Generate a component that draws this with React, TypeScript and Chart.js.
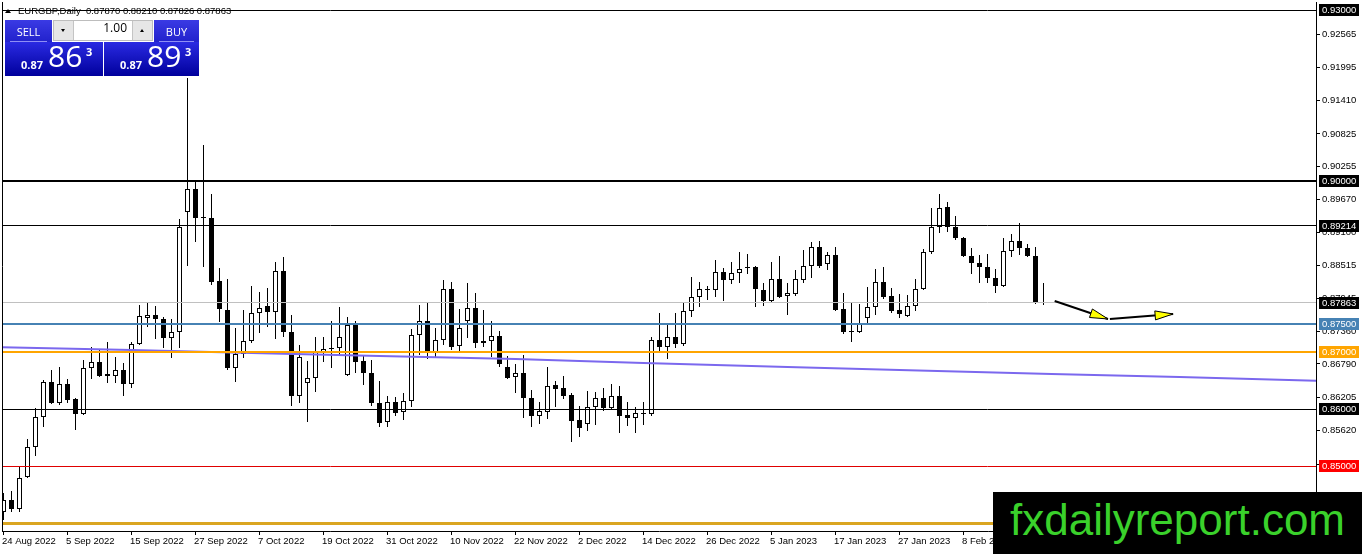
import React, { useEffect, useRef } from "react";
import { Chart, registerables } from "chart.js";

Chart.register(...registerables);

// ---- Data (EURGBP Daily) ----
const dateLabels = [
  "24 Aug 2022", "5 Sep 2022", "15 Sep 2022", "27 Sep 2022", "7 Oct 2022", "19 Oct 2022",
  "31 Oct 2022", "10 Nov 2022", "22 Nov 2022", "2 Dec 2022", "14 Dec 2022", "26 Dec 2022",
  "5 Jan 2023", "17 Jan 2023", "27 Jan 2023", "8 Feb 2023", "20 Feb 2023",
];
const dateLabelIdx = [0, 8, 16, 24, 32, 40, 48, 56, 64, 72, 80, 88, 96, 104, 112, 120, 128];

const opens = [
  0.84193, 0.84404, 0.84246, 0.84807, 0.85333, 0.8586, 0.86474, 0.86105, 0.86439, 0.86175,
  0.85912, 0.86719, 0.86825, 0.86614, 0.86579, 0.86684, 0.86439, 0.8714, 0.87596, 0.87649,
  0.87579, 0.87246, 0.87351, 0.89456, 0.8986, 0.89368, 0.89351, 0.88246, 0.87737, 0.86719,
  0.86965, 0.87193, 0.87684, 0.87807, 0.87702, 0.88421, 0.87351, 0.86228, 0.86456, 0.86544,
  0.87, 0.87053, 0.8707, 0.86596, 0.87474, 0.86842, 0.86632, 0.86105, 0.85772, 0.86123,
  0.85947, 0.8614, 0.87298, 0.87544, 0.87, 0.87211, 0.88105, 0.87105, 0.87544, 0.87772,
  0.87158, 0.87193, 0.87281, 0.86737, 0.86561, 0.86632, 0.86193, 0.85877, 0.85947, 0.86421,
  0.86368, 0.86246, 0.85807, 0.85737, 0.86035, 0.86193, 0.86018, 0.86228, 0.85895, 0.85842,
  0.8593, 0.85912, 0.87211, 0.87088, 0.87263, 0.8714, 0.87719, 0.87965, 0.88088, 0.88088,
  0.88404, 0.88263, 0.88386, 0.88491, 0.88491, 0.88088, 0.87895, 0.88281, 0.87982, 0.88018,
  0.88263, 0.88509, 0.88842, 0.88544, 0.88702, 0.87754, 0.87368, 0.87351, 0.87596, 0.8779,
  0.88228, 0.87982, 0.87737, 0.87632, 0.87807, 0.88105, 0.88754, 0.89193, 0.89544, 0.89193,
  0.89, 0.88684, 0.88561, 0.88491, 0.88298, 0.88158, 0.88772, 0.88947, 0.88825, 0.88684,
  0.8787,
];
const highs = [
  0.84526, 0.84561, 0.84982, 0.85474, 0.86018, 0.86509, 0.86684, 0.86737, 0.86526, 0.86193,
  0.8686, 0.87088, 0.87035, 0.87175, 0.86912, 0.86807, 0.87175, 0.87825, 0.8786, 0.87807,
  0.87614, 0.87579, 0.89333, 0.91807, 0.90018, 0.90632, 0.89772, 0.88474, 0.88281, 0.87421,
  0.87737, 0.88158, 0.88053, 0.88123, 0.88579, 0.88667, 0.87649, 0.87123, 0.86842, 0.87263,
  0.87263, 0.87544, 0.8779, 0.87614, 0.87544, 0.8693, 0.8686, 0.86491, 0.86228, 0.8621,
  0.8628, 0.87404, 0.87825, 0.87877, 0.87421, 0.88263, 0.88228, 0.87754, 0.8821, 0.88035,
  0.87737, 0.87544, 0.87368, 0.8693, 0.86789, 0.86947, 0.86333, 0.86123, 0.86737, 0.86491,
  0.86579, 0.8628, 0.86053, 0.86316, 0.86298, 0.86368, 0.86439, 0.86404, 0.86123, 0.86035,
  0.86123, 0.87263, 0.87684, 0.87509, 0.87684, 0.87877, 0.88316, 0.88228, 0.88158, 0.88614,
  0.88474, 0.88579, 0.88754, 0.88719, 0.88509, 0.8821, 0.88579, 0.88684, 0.8821, 0.88439,
  0.88789, 0.8893, 0.88947, 0.88754, 0.88842, 0.88035, 0.8786, 0.87842, 0.8814, 0.88456,
  0.88491, 0.88123, 0.88018, 0.88, 0.88281, 0.88807, 0.89526, 0.89772, 0.89632, 0.89386,
  0.89018, 0.88825, 0.88702, 0.88719, 0.88456, 0.89, 0.8907, 0.89263, 0.88895, 0.88842,
  0.8821,
];
const lows = [
  0.84053, 0.84193, 0.84193, 0.8479, 0.85175, 0.85684, 0.86088, 0.8607, 0.86105, 0.85632,
  0.85895, 0.86526, 0.86561, 0.86456, 0.86456, 0.86228, 0.86368, 0.87123, 0.87439, 0.87228,
  0.8707, 0.86895, 0.8707, 0.88509, 0.8893, 0.88491, 0.88175, 0.87526, 0.86684, 0.86474,
  0.86895, 0.87158, 0.87333, 0.87439, 0.87228, 0.87263, 0.86053, 0.86105, 0.85772, 0.86298,
  0.86825, 0.86719, 0.86947, 0.86579, 0.86632, 0.86421, 0.86053, 0.85684, 0.85684, 0.85877,
  0.85807, 0.86035, 0.86947, 0.86877, 0.86912, 0.87123, 0.87035, 0.87, 0.87246, 0.8707,
  0.87088, 0.86912, 0.86737, 0.86526, 0.8628, 0.85842, 0.85684, 0.85737, 0.85825, 0.86035,
  0.86175, 0.85421, 0.85509, 0.85614, 0.85719, 0.85965, 0.86, 0.85579, 0.85702, 0.85579,
  0.85719, 0.85877, 0.87, 0.86877, 0.8707, 0.87105, 0.87614, 0.8779, 0.87912, 0.87965,
  0.87895, 0.88193, 0.8821, 0.88368, 0.8779, 0.87807, 0.8786, 0.87947, 0.87649, 0.87982,
  0.8821, 0.88298, 0.88474, 0.88439, 0.87719, 0.87316, 0.87175, 0.87333, 0.87509, 0.87649,
  0.8793, 0.87684, 0.87596, 0.87614, 0.87719, 0.88088, 0.88719, 0.89088, 0.89105, 0.88965,
  0.88667, 0.88368, 0.8821, 0.8821, 0.88035, 0.8814, 0.88667, 0.88702, 0.88667, 0.87842,
  0.87826,
];
const closes = [
  0.84404, 0.84246, 0.8479, 0.85333, 0.8586, 0.86474, 0.86105, 0.86439, 0.86158, 0.85912,
  0.86719, 0.86825, 0.86579, 0.86579, 0.86684, 0.86439, 0.8714, 0.87632, 0.87649, 0.87579,
  0.87246, 0.87351, 0.89193, 0.8986, 0.89351, 0.89351, 0.88228, 0.87754, 0.86719, 0.86965,
  0.87193, 0.87684, 0.87772, 0.87702, 0.88421, 0.87351, 0.86228, 0.86912, 0.86544, 0.87018,
  0.87053, 0.8707, 0.87263, 0.87474, 0.86825, 0.86632, 0.86105, 0.85754, 0.86123, 0.8593,
  0.8614, 0.87298, 0.87544, 0.87, 0.87211, 0.88105, 0.87088, 0.87421, 0.87772, 0.87158,
  0.87193, 0.87281, 0.8679, 0.86544, 0.86632, 0.86193, 0.85877, 0.85965, 0.86404, 0.86351,
  0.86228, 0.85789, 0.85667, 0.86035, 0.86193, 0.86018, 0.86228, 0.85877, 0.85842, 0.8593,
  0.85912, 0.87211, 0.87088, 0.87263, 0.8714, 0.87719, 0.87965, 0.88105, 0.88105, 0.88404,
  0.88263, 0.88386, 0.88456, 0.88474, 0.88105, 0.87895, 0.88281, 0.87965, 0.88035, 0.88281,
  0.88509, 0.88842, 0.88509, 0.88702, 0.87737, 0.87351, 0.87351, 0.87509, 0.8779, 0.88228,
  0.87965, 0.87719, 0.87667, 0.87807, 0.88105, 0.88754, 0.89193, 0.89526, 0.89193, 0.89,
  0.88684, 0.88561, 0.88491, 0.88298, 0.88158, 0.88772, 0.88947, 0.88825, 0.88684, 0.8786,
  0.87863,
];

// moving average (purple) sampled at bar indices
const maIdx = [-1, 16, 31, 47, 64, 80, 98, 112, 131, 147, 165];
const maValues = [0.87088, 0.87035, 0.86982, 0.8693, 0.86877, 0.86807, 0.86737, 0.86684, 0.86614, 0.86561, 0.86491];

// right price-axis tick values
const priceTicks = [
  0.92565, 0.91995, 0.9141, 0.90825, 0.90255, 0.8967, 0.891, 0.88515, 0.87945,
  0.8736, 0.8679, 0.86205, 0.8562, 0.85035, 0.8445,
];

// horizontal levels
const levelValues = [0.93, 0.9, 0.89214, 0.87863, 0.875, 0.87, 0.86, 0.85, 0.84];
const levelColors = ["#000000", "#000000", "#000000", "#c0c0c0", "#4682b4", "#ffa500", "#000000", "#e00000", "#daa520"];
const levelWidths = [1, 2, 1, 1, 2, 2, 1, 1, 3];
const levelLabelBg = ["#000000", "#000000", "#000000", "#000000", "#4682b4", "#ffa500", "#000000", "#ff0000", ""];

// arrows (bar index, price)
const arrowFromIdx = [131.4, 138.3];
const arrowFromPrice = [0.87895, 0.87579];
const arrowToIdx = [138.06, 146.2];
const arrowToPrice = [0.87579, 0.87667];

const titleText = "EURGBP,Daily  0.87870 0.88210 0.87826 0.87863";

const FONT = '"Liberation Sans", Arial, sans-serif';
const PANEL_FONT = '"Open Sans", "Noto Sans", sans-serif';

const overlayPlugin = {
  id: "fxOverlay",
  afterDatasetsDraw(chart: any) {
    const { ctx, chartArea: a, scales } = chart;
    const xs = scales.x;
    const ys = scales.y;
    ctx.save();
    ctx.beginPath();
    ctx.rect(a.left, a.top, a.right - a.left, a.bottom - a.top);
    ctx.clip();
    levelValues.forEach((v, k) => {
      const w = levelWidths[k];
      let py = ys.getPixelForValue(v);
      py = w % 2 === 1 ? Math.floor(py) + 0.5 : Math.round(py);
      ctx.strokeStyle = levelColors[k];
      ctx.lineWidth = w;
      ctx.beginPath();
      ctx.moveTo(a.left, py);
      ctx.lineTo(a.right, py);
      ctx.stroke();
    });
    for (let k = 0; k < arrowFromIdx.length; k++) {
      const x1 = xs.getPixelForValue(arrowFromIdx[k]);
      const y1 = ys.getPixelForValue(arrowFromPrice[k]);
      const x2 = xs.getPixelForValue(arrowToIdx[k]);
      const y2 = ys.getPixelForValue(arrowToPrice[k]);
      ctx.strokeStyle = "#000";
      ctx.lineWidth = 2;
      ctx.beginPath();
      ctx.moveTo(x1, y1);
      ctx.lineTo(x2, y2);
      ctx.stroke();
      const ang = Math.atan2(y2 - y1, x2 - x1);
      const L = 18;
      const H = 4.5;
      const bx = x2 - L * Math.cos(ang);
      const by = y2 - L * Math.sin(ang);
      const ox = -Math.sin(ang) * H;
      const oy = Math.cos(ang) * H;
      ctx.beginPath();
      ctx.moveTo(x2, y2);
      ctx.lineTo(bx + ox, by + oy);
      ctx.lineTo(bx - ox, by - oy);
      ctx.closePath();
      ctx.fillStyle = "#ffff00";
      ctx.fill();
      ctx.lineWidth = 1;
      ctx.stroke();
    }
    ctx.restore();
  },
  afterDraw(chart: any) {
    const { ctx, chartArea: a, scales } = chart;
    const ys = scales.y;
    ctx.save();
    // left frame
    ctx.strokeStyle = "#000";
    ctx.lineWidth = 1;
    ctx.beginPath();
    ctx.moveTo(a.left + 0.5, a.top);
    ctx.lineTo(a.left + 0.5, a.bottom);
    ctx.stroke();
    // level price labels
    ctx.font = `9.5px ${FONT}`;
    ctx.textBaseline = "middle";
    ctx.textAlign = "left";
    levelValues.forEach((v, k) => {
      if (!levelLabelBg[k]) return;
      const py = Math.round(ys.getPixelForValue(v));
      ctx.fillStyle = levelLabelBg[k];
      ctx.fillRect(a.right + 3, py - 6, 40, 12);
      ctx.fillStyle = "#ffffff";
      ctx.fillText(v.toFixed(5), a.right + 6, py + 0.5);
    });
    ctx.restore();
  },
};

function PriceBox(props: { left: number; width: number; big: string }) {
  return (
    <div
      style={{
        position: "absolute",
        left: props.left,
        top: 42,
        width: props.width,
        height: 34,
        background: "linear-gradient(#2a2ae2, #00009c)",
        color: "#fff",
        fontFamily: PANEL_FONT,
      }}
    >
      <span style={{ position: "absolute", left: 16, top: 17, fontSize: 11, lineHeight: "11px", fontWeight: 700 }}>0.87</span>
      <span style={{ position: "absolute", left: 43, top: -1, fontSize: 30, lineHeight: "30px" }}>{props.big}</span>
      <span style={{ position: "absolute", left: 81, top: 4, fontSize: 11, lineHeight: "11px", fontWeight: 700 }}>3</span>
    </div>
  );
}

function TradeButton(props: { left: number; width: number; text: string }) {
  return (
    <div
      style={{
        position: "absolute",
        left: props.left,
        top: 20,
        width: props.width,
        height: 22,
        background: "linear-gradient(#3a3ae4, #2222cc)",
        color: "#fff",
        fontFamily: PANEL_FONT,
        fontSize: 11,
        lineHeight: "11px",
      }}
    >
      <span style={{ position: "absolute", left: 0, width: props.width, top: 6, textAlign: "center" }}>{props.text}</span>
      <div style={{ position: "absolute", left: 5, right: 5, bottom: 0, height: 1, background: "rgba(170,170,255,0.8)" }} />
    </div>
  );
}

export default function App() {
  const canvasRef = useRef<HTMLCanvasElement | null>(null);

  useEffect(() => {
    const canvas = canvasRef.current;
    if (!canvas) return;
    const minBody = 0.00018;
    const idx = opens.map((_, i) => i);
    const bodyData = idx.map((i) => {
      let lo = Math.min(opens[i], closes[i]);
      let hi = Math.max(opens[i], closes[i]);
      if (hi - lo < minBody) {
        const m = (hi + lo) / 2;
        lo = m - minBody / 2;
        hi = m + minBody / 2;
      }
      return { x: i, y: [lo, hi] };
    });
    const bodyColors = idx.map((i) =>
      closes[i] - opens[i] >= minBody ? "#ffffff" : "#000000"
    );
    const wickData = idx.map((i) => ({ x: i, y: [lows[i], highs[i]] }));

    // axis ranges: 0.93 sits 8px below the top of the plot, 5700px per unit
    const yMax = 0.93 + 8 / 5700;
    const yMin = yMax - 529 / 5700;
    const xMin = (2 - 3.5) / 8;
    const xMax = xMin + 1314 / 8;

    const chart = new Chart(canvas, {
      type: "bar",
      data: {
        datasets: [
          {
            type: "line",
            data: maIdx.map((x, k) => ({ x, y: maValues[k] })),
            borderColor: "#7b68ee",
            borderWidth: 2,
            pointRadius: 0,
            tension: 0,
            order: 0,
          } as any,
          {
            type: "bar",
            data: bodyData,
            backgroundColor: bodyColors,
            borderColor: "#000000",
            borderWidth: 1,
            borderSkipped: false,
            barThickness: 5,
            grouped: false,
            inflateAmount: 0,
            order: 1,
          } as any,
          {
            type: "bar",
            data: wickData,
            backgroundColor: "#000000",
            borderWidth: 0,
            barThickness: 1,
            grouped: false,
            inflateAmount: 0,
            order: 2,
          } as any,
        ],
      },
      options: {
        responsive: false,
        animation: false,
        events: [],
        layout: { padding: { left: 2, top: 2, right: 0, bottom: 0 } },
        plugins: { legend: { display: false }, tooltip: { enabled: false } },
        scales: {
          x: {
            type: "linear",
            min: xMin,
            max: xMax,
            offset: false,
            grid: { display: true, drawOnChartArea: false, drawTicks: true, tickLength: 4, color: "#000", offset: false },
            border: { display: true, color: "#000", width: 1 },
            ticks: {
              autoSkip: false,
              maxRotation: 0,
              minRotation: 0,
              align: "start",
              labelOffset: -1.5,
              padding: 1,
              color: "#000",
              font: { family: FONT, size: 9.5 },
              callback: (v: any) => {
                const k = dateLabelIdx.indexOf(Math.round(Number(v)));
                return k >= 0 ? dateLabels[k] : "";
              },
            },
            afterBuildTicks: (s: any) => {
              s.ticks = dateLabelIdx.map((v) => ({ value: v }));
            },
            afterFit: (s: any) => {
              s.height = 23;
              s.paddingLeft = 0;
              s.paddingRight = 0;
            },
          } as any,
          y: {
            type: "linear",
            position: "right",
            min: yMin,
            max: yMax,
            grid: { display: true, drawOnChartArea: false, drawTicks: true, tickLength: 4, color: "#000" },
            border: { display: true, color: "#000", width: 1 },
            ticks: {
              padding: 2,
              color: "#000",
              font: { family: FONT, size: 9.5 },
              callback: (v: any) => Number(v).toFixed(5),
            },
            afterBuildTicks: (s: any) => {
              s.ticks = priceTicks.slice().sort((a, b) => a - b).map((v) => ({ value: v }));
            },
            afterFit: (s: any) => {
              s.width = 46;
              s.paddingTop = 0;
              s.paddingBottom = 0;
            },
          } as any,
        },
      } as any,
      plugins: [overlayPlugin as any],
    });
    return () => chart.destroy();
  }, []);

  return (
    <div
      style={{
        position: "absolute",
        left: 0,
        top: 0,
        width: 1362,
        height: 554,
        overflow: "hidden",
        background: "#ffffff",
      }}
    >
      <canvas
        ref={canvasRef}
        width={1362}
        height={554}
        style={{ position: "absolute", left: 0, top: 0, width: 1362, height: 554 }}
      />
      {/* title */}
      <div
        style={{
          position: "absolute",
          left: 5,
          top: 9,
          width: 0,
          height: 0,
          borderLeft: "3px solid transparent",
          borderRight: "3px solid transparent",
          borderBottom: "4px solid #000",
        }}
      />
      <div
        style={{
          position: "absolute",
          left: 18,
          top: 6,
          fontFamily: FONT,
          fontSize: 9.5,
          lineHeight: "9.5px",
          color: "#000",
          whiteSpace: "pre",
        }}
      >
        {titleText}
      </div>
      {/* one-click trading panel */}
      <TradeButton left={5} width={47} text="SELL" />
      <div
        style={{
          position: "absolute",
          left: 53,
          top: 20,
          width: 98,
          height: 19,
          background: "#fff",
          border: "1px solid #bdbdbd",
          fontFamily: PANEL_FONT,
        }}
      >
        <div
          style={{
            position: "absolute",
            left: 0,
            top: 0,
            width: 19,
            height: 19,
            background: "#e6e6e6",
            borderRight: "1px solid #c4c4c4",
          }}
        >
          <div style={{ position: "absolute", left: 7, top: 8, width: 0, height: 0, borderLeft: "2.5px solid transparent", borderRight: "2.5px solid transparent", borderTop: "3px solid #000" }} />
        </div>
        <span style={{ position: "absolute", right: 25, top: 1, fontSize: 12, lineHeight: "12px", color: "#000" }}>1.00</span>
        <div
          style={{
            position: "absolute",
            right: 0,
            top: 0,
            width: 19,
            height: 19,
            background: "#e6e6e6",
            borderLeft: "1px solid #c4c4c4",
          }}
        >
          <div style={{ position: "absolute", left: 7, top: 8, width: 0, height: 0, borderLeft: "2.5px solid transparent", borderRight: "2.5px solid transparent", borderBottom: "3px solid #000" }} />
        </div>
      </div>
      <TradeButton left={154} width={45} text="BUY" />
      <PriceBox left={5} width={98} big="86" />
      <PriceBox left={104} width={95} big="89" />
      {/* watermark */}
      <div
        style={{
          position: "absolute",
          left: 993,
          top: 492,
          width: 369,
          height: 62,
          background: "#000",
        }}
      >
        <span
          style={{
            position: "absolute",
            left: 17,
            top: 6,
            fontFamily: FONT,
            fontSize: 44,
            lineHeight: "44px",
            color: "#3ad12b",
            whiteSpace: "nowrap",
          }}
        >
          fxdailyreport.com
        </span>
      </div>
    </div>
  );
}
